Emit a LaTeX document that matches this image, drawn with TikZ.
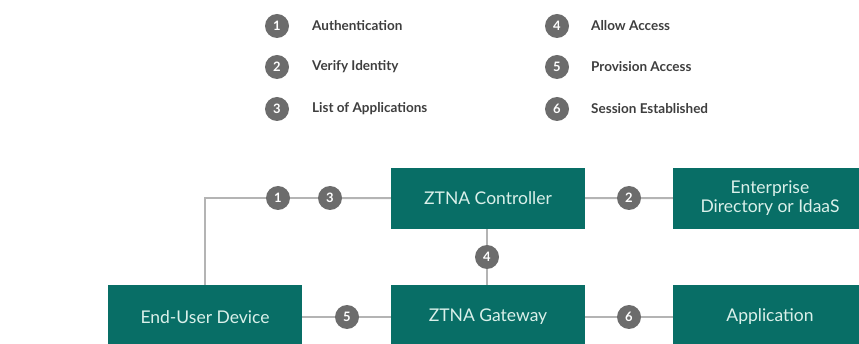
\documentclass[tikz,border=0pt]{standalone}
\usepackage{fontspec}
\setmainfont{Lato}
\usetikzlibrary{positioning}
\definecolor{ZtnaTeal}{RGB}{8,110,102}
\definecolor{StepGray}{RGB}{108,108,108}
\definecolor{LinkGray}{RGB}{180,180,180}
\definecolor{BoxText}{RGB}{218,240,234}
\definecolor{LegendText}{RGB}{62,62,62}

\begin{document}
\begin{tikzpicture}[x=1pt,y=-1pt,
    box/.style={fill=ZtnaTeal,text=BoxText,minimum width=194pt,inner sep=0pt,
      align=center,font=\fontsize{17.5}{19}\selectfont},
    num/.style={circle,fill=StepGray,text=white,minimum size=24pt,inner sep=0pt,
      font=\bfseries\fontsize{13}{13}\selectfont},
    legend/.style={anchor=west,text=LegendText,inner sep=0pt,
      font=\bfseries\fontsize{13.5}{15}\selectfont},
    link/.style={draw=LinkGray,line width=2pt}]
  \useasboundingbox (0,0) rectangle (859,344);
  \clip (0,0) rectangle (859,344);

  % legend, two columns
  \node[num] (k1) at (277,26) {1};
  \node[num] (k2) at (277,67) {2};
  \node[num] (k3) at (277,109) {3};
  \node[num] (k4) at (557,26) {4};
  \node[num] (k5) at (557,67) {5};
  \node[num] (k6) at (557,109) {6};
  \node[legend] (t1) at (312,26) {Authentication};
  \node[legend] (t2) at (312,67) {Verify Identity};
  \node[legend] (t3) at (312,109) {List of Applications};
  \node[legend] (t4) at (591,26) {Allow Access};
  \node[legend] (t5) at (591,67) {Provision Access};
  \node[legend] (t6) at (591,109) {Session Established};

  % boxes
  \node[box,minimum height=61pt] (ctrl) at (488,198.5) {ZTNA Controller};
  \node[box,minimum height=61pt] (dir) at (770,198.5) {Enterprise\\Directory or IdaaS};
  \node[box,minimum height=64pt] (user) at (205,317) {End-User Device};
  \node[box,minimum height=64pt] (gw) at (488,317) {ZTNA Gateway};
  \node[box,minimum height=64pt] (app) at (770,317) {Application};

  % steps on the links
  \node[num] (s1) at (278,198) {1};
  \node[num] (s3) at (330,198) {3};
  \node[num] (s2) at (629,198) {2};
  \node[num] (s4) at (487,257) {4};
  \node[num] (s5) at (347,317) {5};
  \node[num] (s6) at (629,317) {6};

  \draw[link] (user.north) |- (s1.west);
  \draw[link] (s1) -- (s3);
  \draw[link] (s3) -- (ctrl);
  \draw[link] (ctrl) -- (s2);
  \draw[link] (s2) -- (dir);
  \draw[link] (ctrl.south -| s4) -- (s4);
  \draw[link] (s4) -- (gw.north -| s4);
  \draw[link] (user) -- (s5);
  \draw[link] (s5) -- (gw);
  \draw[link] (gw) -- (s6);
  \draw[link] (s6) -- (app);
\end{tikzpicture}
\end{document}
